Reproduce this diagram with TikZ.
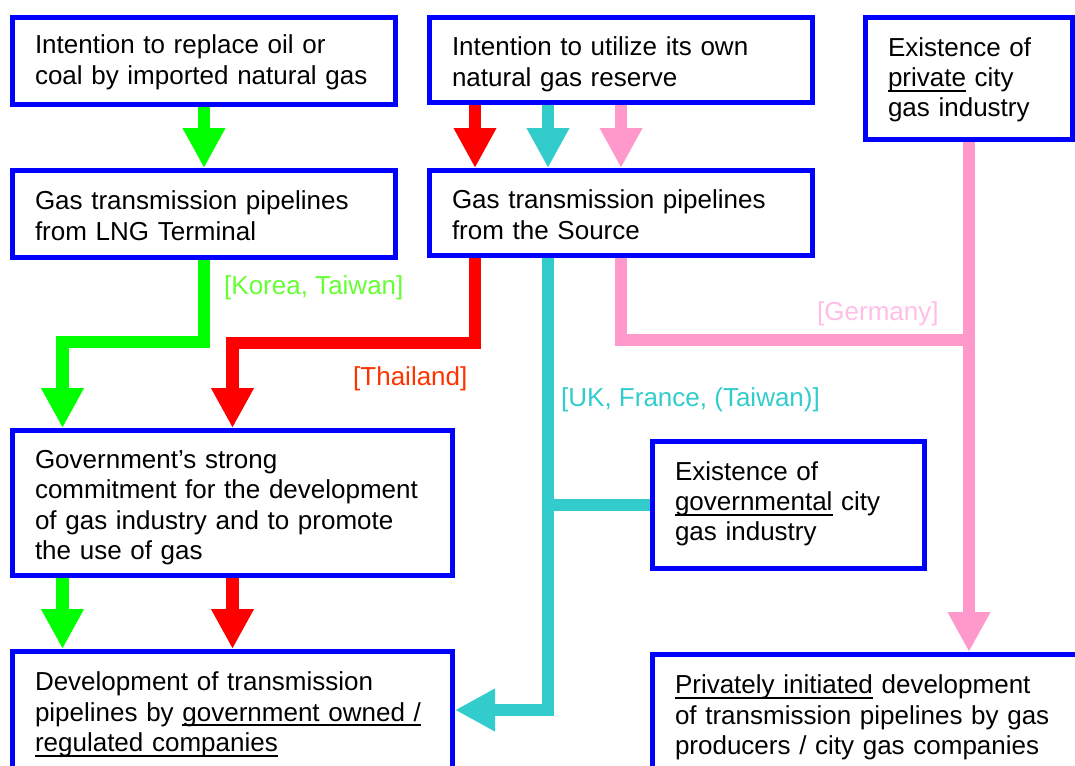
\documentclass[tikz,border=0pt]{standalone}
\usepackage{fontspec}
\setmainfont{Liberation Sans}
\usetikzlibrary{positioning, arrows.meta}

\definecolor{boxblue}{RGB}{0,0,255}
\definecolor{pipegreen}{RGB}{0,255,0}
\definecolor{pipered}{RGB}{255,0,0}
\definecolor{pipecyan}{RGB}{51,204,204}
\definecolor{pipepink}{RGB}{255,153,204}
\definecolor{lblgreen}{RGB}{102,255,51}
\definecolor{lblred}{RGB}{255,51,0}
\definecolor{lblpink}{RGB}{255,190,230}

\newcommand{\undl}[1]{\leavevmode\setbox0=\hbox{#1}\rlap{\rule[-0.2em]{\wd0}{0.075em}}\box0\relax}

\begin{document}
\begin{tikzpicture}[x=1pt, y=-1pt, font=\fontsize{26}{30.3}\selectfont,
	box/.style={draw=boxblue, line width=5pt, outer sep=2.5pt, rectangle, fill=white, align=left, inner xsep=22.5pt, inner ysep=0pt, anchor=north west,
		execute at begin node={\rule{0pt}{24pt}}, execute at end node={\rule[-8pt]{0pt}{8pt}}},
	lowtext/.style={execute at begin node={\rule{0pt}{30pt}}},
	pipe/.style={line width=12.5pt, -{Triangle[width=40pt, length=40pt]}},
	link/.style={line width=12.5pt},
	country/.style={anchor=base west, inner sep=0pt}
	]
	\useasboundingbox (0,0) rectangle (1075,765);
	
	% Starting conditions
	\node[box, text width=338pt, minimum height=87pt] (replace) at (10,15) {Intention to replace oil or\\coal by imported natural gas};
	\node[box, lowtext, text width=338pt, minimum height=85pt] (reserve) at (427,15) {Intention to utilize its own\\natural gas reserve};
	\node[box, text width=162pt, minimum height=122pt] (privcity) at (863,15) {Existence of\\\undl{private} city\\gas industry};
	
	% Transmission pipelines
	\node[box, lowtext, text width=338pt, minimum height=87pt, below=61pt of replace] (lng) {Gas transmission pipelines\\from LNG Terminal};
	\node[box, lowtext, text width=338pt, minimum height=85pt, below=63pt of reserve] (source) {Gas transmission pipelines\\from the Source};
	
	% Government side
	\node[box, lowtext, text width=395pt, minimum height=145pt] (commit) at (10,428) {Government's strong\\commitment for the development\\of gas industry and to promote\\the use of gas};
	\node[box, text width=227pt, minimum height=127pt, execute at end node={\rule[-13pt]{0pt}{13pt}}] (govcity) at (650,439) {Existence of\\\undl{governmental} city\\gas industry};
	
	% Outcomes
	\node[box, text width=395pt, minimum height=123pt] (govdev) at (10,649) {Development of transmission\\pipelines by \undl{government owned /}\\\undl{regulated companies}};
	\node[box, text width=588pt, minimum height=123pt] (privdev) at (650,652) {\undl{Privately initiated} development\\of transmission pipelines by gas\\producers / city gas companies};
	
	% Pipe columns
	\coordinate (redcol) at ([xshift=-146pt]source.south);
	\coordinate (cyancol) at ([xshift=-73pt]source.south);
	\coordinate (pinkjoin) at ([yshift=-198pt]privcity.south);
	
	% Arrows
	\draw[pipe, pipegreen] (replace.south) -- (lng.north);
	\draw[pipe, pipered] ([xshift=-146pt]reserve.south) -- ([xshift=-146pt]source.north);
	\draw[pipe, pipecyan] ([xshift=-73pt]reserve.south) -- ([xshift=-73pt]source.north);
	\draw[pipe, pipepink] (reserve.south) -- (source.north);
	
	\draw[pipe, pipegreen] (lng.south) -- ++(0,82) -| ([xshift=-170pt]commit.north);
	\draw[pipe, pipered] (redcol) -- ++(0,85) -| (commit.north);
	\draw[pipe, pipecyan] (cyancol) |- ([yshift=3pt]govdev.east);
	\draw[link, pipecyan] (govcity.west) -- (govcity.west -| cyancol);
	\draw[link, pipepink] (source.south) |- (pinkjoin);
	\draw[pipe, pipepink] (privcity.south) -- (privdev.north);
	
	\draw[pipe, pipegreen] ([xshift=-170pt]commit.south) -- ([xshift=-170pt]govdev.north);
	\draw[pipe, pipered] (commit.south) -- (govdev.north);
	
	% Countries
	\node[country, lblgreen] (korea) at (224,294) {[Korea, Taiwan]};
	\node[country, lblred] (thai) at (353,385) {[Thailand]};
	\node[country, pipecyan] (ukfr) at (561,406) {[UK, France, (Taiwan)]};
	\node[country, lblpink] (germany) at (817,320) {[Germany]};
	
\end{tikzpicture}
\end{document}
